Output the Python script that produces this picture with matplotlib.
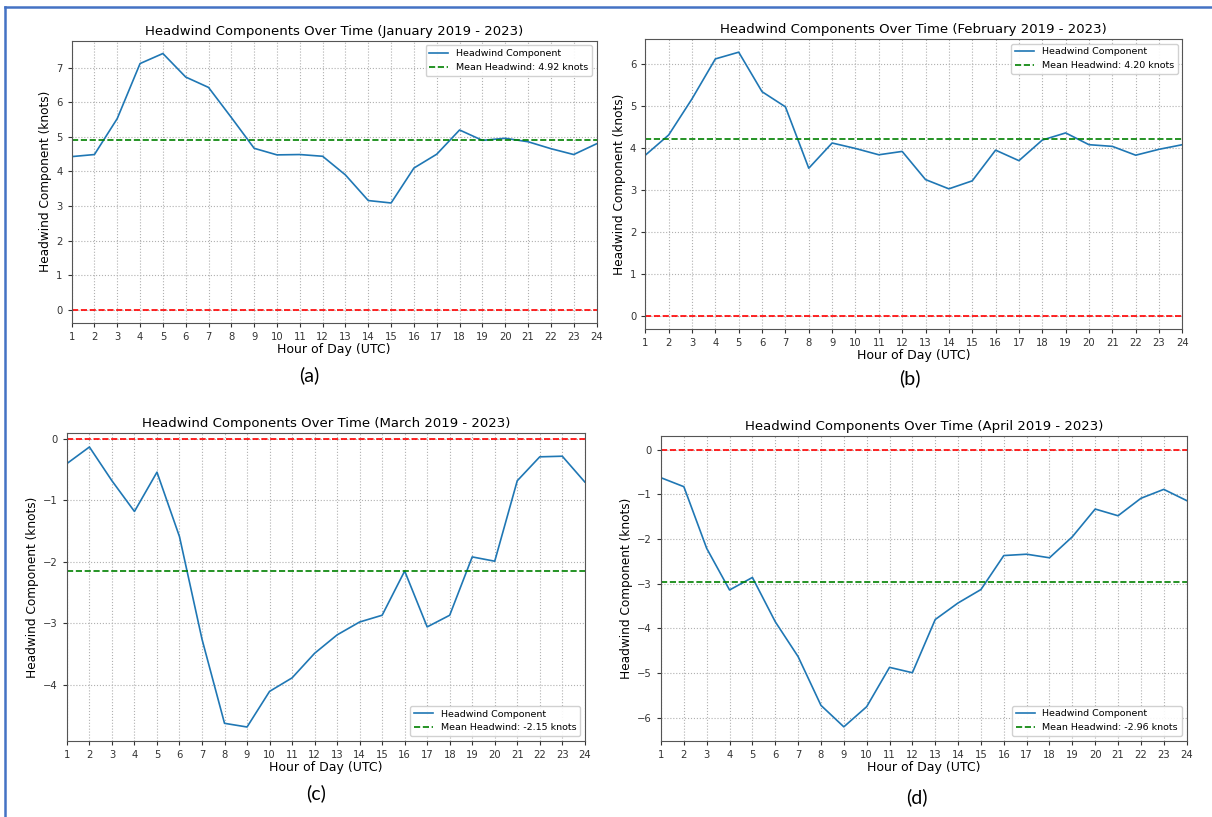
import numpy as np
import matplotlib
matplotlib.use("Agg")
import matplotlib.pyplot as plt
from matplotlib.lines import Line2D

# hours of day (UTC)
hours = list(range(1, 25))

# headwind component per hour (knots)
jan = [4.43, 4.49, 5.53, 7.12, 7.41, 6.73, 6.43, 5.56, 4.67, 4.48, 4.49, 4.44,
       3.90, 3.16, 3.09, 4.10, 4.50, 5.20, 4.90, 4.96, 4.86, 4.66, 4.49, 4.80]
feb = [3.82, 4.30, 5.16, 6.11, 6.27, 5.33, 4.97, 3.51, 4.11, 3.98, 3.83, 3.91,
       3.24, 3.02, 3.21, 3.94, 3.69, 4.18, 4.35, 4.07, 4.03, 3.82, 3.96, 4.07]
mar = [-0.40, -0.13, -0.68, -1.18, -0.54, -1.59, -3.26, -4.63, -4.69, -4.11, -3.89, -3.49,
       -3.19, -2.98, -2.87, -2.15, -3.06, -2.87, -1.92, -1.99, -0.68, -0.29, -0.28, -0.70]
apr = [-0.63, -0.83, -2.21, -3.14, -2.86, -3.85, -4.63, -5.72, -6.20, -5.75, -4.87, -4.99,
       -3.80, -3.43, -3.13, -2.37, -2.34, -2.42, -1.95, -1.33, -1.48, -1.09, -0.89, -1.14]

months = ["January", "February", "March", "April"]
means = [4.92, 4.20, -2.15, -2.96]
panel_tags = ["(a)", "(b)", "(c)", "(d)"]
series = [jan, feb, mar, apr]

W, H = 1212, 817
fig = plt.figure(figsize=(W / 100, H / 100), dpi=100)

# axes boxes in pixels: left, top, right, bottom
boxes = [(71.6, 40.7, 596.5, 322.7),
         (645.3, 39.0, 1182.4, 329.0),
         (66.9, 433.0, 584.8, 741.0),
         (661.0, 435.7, 1186.6, 740.7)]
tag_pos = [(309, 375), (910, 378), (316, 793), (917, 797)]
legend_loc = ["upper right", "upper right", "lower right", "lower right"]

for i in range(4):
    l, t, r, b = boxes[i]
    ax = fig.add_axes([l / W, 1 - b / H, (r - l) / W, (b - t) / H])
    ax.plot(hours, series[i], color="#1f77b4", lw=1.2, label="Headwind Component")
    ax.axhline(means[i], color="green", ls="--", lw=1.2,
               label=f"Mean Headwind: {means[i]:.2f} knots")
    ax.axhline(0, color="red", ls="--", lw=1.2)
    ax.set_xlim(1, 24)
    if i == 2:
        lo, hi = min(series[i]), max(series[i])
        pad = 0.05 * (hi - lo)
        ax.set_ylim(lo - pad, hi + pad)
    ax.set_xticks(hours)
    ax.tick_params(labelsize=7.2, length=3, colors="#333333")
    ax.grid(True, ls=":", color="#b0b0b0", lw=0.8)
    for s in ax.spines.values():
        s.set_color("#555555")
    ax.set_title(f"Headwind Components Over Time ({months[i]} 2019 - 2023)",
                 fontsize=9.5, pad=4)
    ax.set_xlabel("Hour of Day (UTC)", fontsize=9, labelpad=1)
    ax.set_ylabel("Headwind Component (knots)", fontsize=8.7, labelpad=3)
    ax.legend(loc=legend_loc[i], fontsize=6.8, framealpha=0.9)
    fig.text(tag_pos[i][0] / W, 1 - tag_pos[i][1] / H, panel_tags[i],
             fontsize=14, family="Lato", ha="center", va="center")

# blue frame around the figure (top and left edges visible)
fig.add_artist(Line2D([5 / W, 1], [1 - 7 / H, 1 - 7 / H], color="#4472c4", lw=1.8))
fig.add_artist(Line2D([5 / W, 5 / W], [0, 1 - 7 / H], color="#4472c4", lw=1.8))

fig.savefig("out.png", dpi=100)
